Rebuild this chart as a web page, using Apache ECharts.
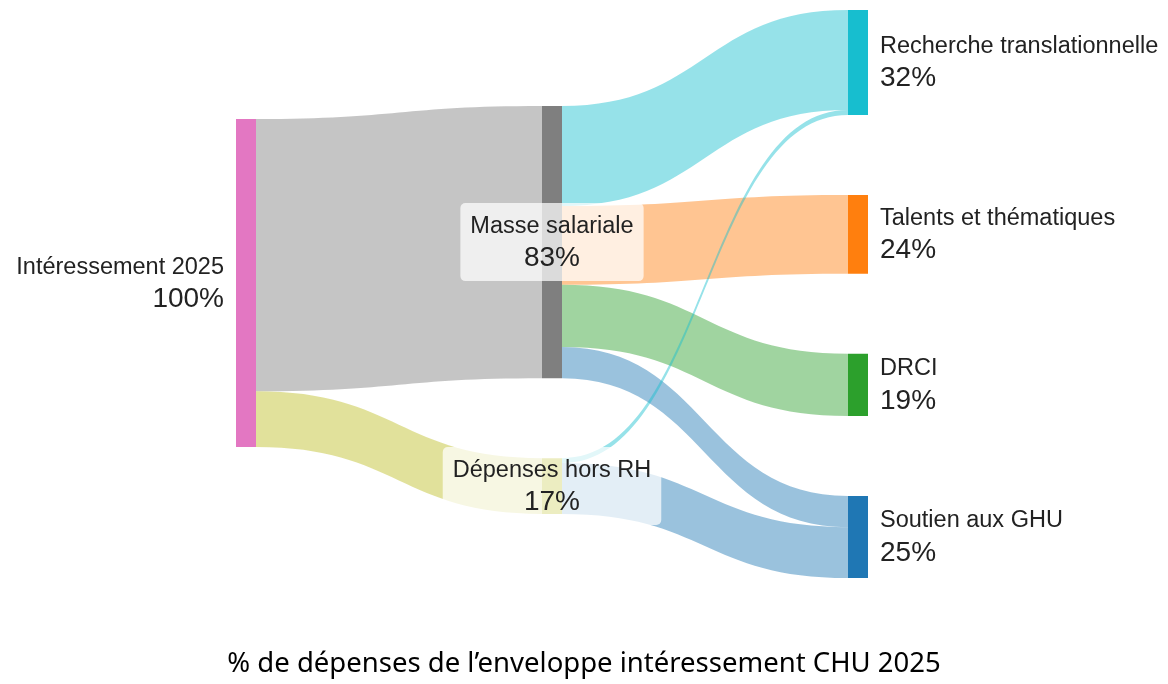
<!DOCTYPE html>
<html>
<head>
<meta charset="utf-8">
<title>Intéressement CHU 2025</title>
<script src="https://cdn.jsdelivr.net/npm/echarts@6/dist/echarts.min.js"></script>
<style>
    html, body { margin: 0; padding: 0; background: #fff; }
    #main { width: 1168px; height: 684px; }
</style>
</head>
<body>
<div id="main"></div>
<script>
// noeuds et flux (en % de l'enveloppe)
var nodeNames = ['Intéressement 2025', 'Masse salariale', 'Dépenses hors RH',
    'Recherche translationnelle', 'Talents et thématiques', 'DRCI', 'Soutien aux GHU'];
var linkSources = ['Intéressement 2025', 'Intéressement 2025',
    'Masse salariale', 'Masse salariale', 'Masse salariale', 'Masse salariale',
    'Dépenses hors RH', 'Dépenses hors RH'];
var linkTargets = ['Masse salariale', 'Dépenses hors RH',
    'Recherche translationnelle', 'Talents et thématiques', 'DRCI', 'Soutien aux GHU',
    'Recherche translationnelle', 'Soutien aux GHU'];
var linkValues = [83, 17, 30.5, 24, 19, 9.5, 1.5, 15.5];

var nodeColors = ['#e377c2', '#7f7f7f', '#bcbd22', '#17becf', '#ff7f0e', '#2ca02c', '#1f77b4'];
// position verticale des noeuds de gauche et du milieu (fraction de la hauteur)
var nodeOffsets = { 'Intéressement 2025': 0.192, 'Masse salariale': 0.169, 'Dépenses hors RH': 0.789 };

(function () {
    var chart = echarts.init(document.getElementById('main'));

    var labelFont = 'Arial, "Liberation Sans", sans-serif';
    var richText = {
        n: { fontSize: 23.5, lineHeight: 32, color: '#222', fontFamily: labelFont },
        v: { fontSize: 28, lineHeight: 32, color: '#222', fontFamily: labelFont }
    };

    var nodes = nodeNames.map(function (name, i) {
        var item = {
            name: name,
            itemStyle: { color: nodeColors[i] }
        };
        if (nodeOffsets[name] != null) {
            item.localY = nodeOffsets[name];
        }
        if (i === 0) {
            item.label = { position: 'left', distance: 12 };
        } else if (i === 1 || i === 2) {
            item.label = {
                position: 'inside',
                backgroundColor: 'rgba(255,255,255,0.72)',
                borderRadius: 5,
                padding: [7, 10, 7, 10]
            };
        }
        return item;
    });

    var links = linkValues.map(function (v, i) {
        return { source: linkSources[i], target: linkTargets[i], value: v };
    });

    var option = {
        backgroundColor: '#fff',
        animation: false,
        title: {
            text: '% de dépenses de l\u2019enveloppe intéressement CHU 2025',
            left: 'center',
            bottom: 1,
            textStyle: {
                fontFamily: 'Noto Sans',
                fontSize: 27.5,
                fontWeight: 'normal',
                color: '#000'
            }
        },
        series: [
            {
                type: 'sankey',
                left: 236,
                top: 10,
                right: 300,
                bottom: 106,
                nodeWidth: 20,
                nodeGap: 80,
                layoutIterations: 0,
                draggable: false,
                emphasis: { disabled: true },
                itemStyle: { borderWidth: 0 },
                lineStyle: { color: 'target', opacity: 0.45, curveness: 0.5 },
                label: {
                    position: 'right',
                    distance: 12,
                    fontFamily: labelFont,
                    color: '#222',
                    formatter: function (p) {
                        return '{n|' + p.name + '}\n{v|' + p.value + '%}';
                    },
                    rich: richText
                },
                data: nodes,
                links: links
            }
        ]
    };

    chart.setOption(option);
})();
</script>
</body>
</html>
